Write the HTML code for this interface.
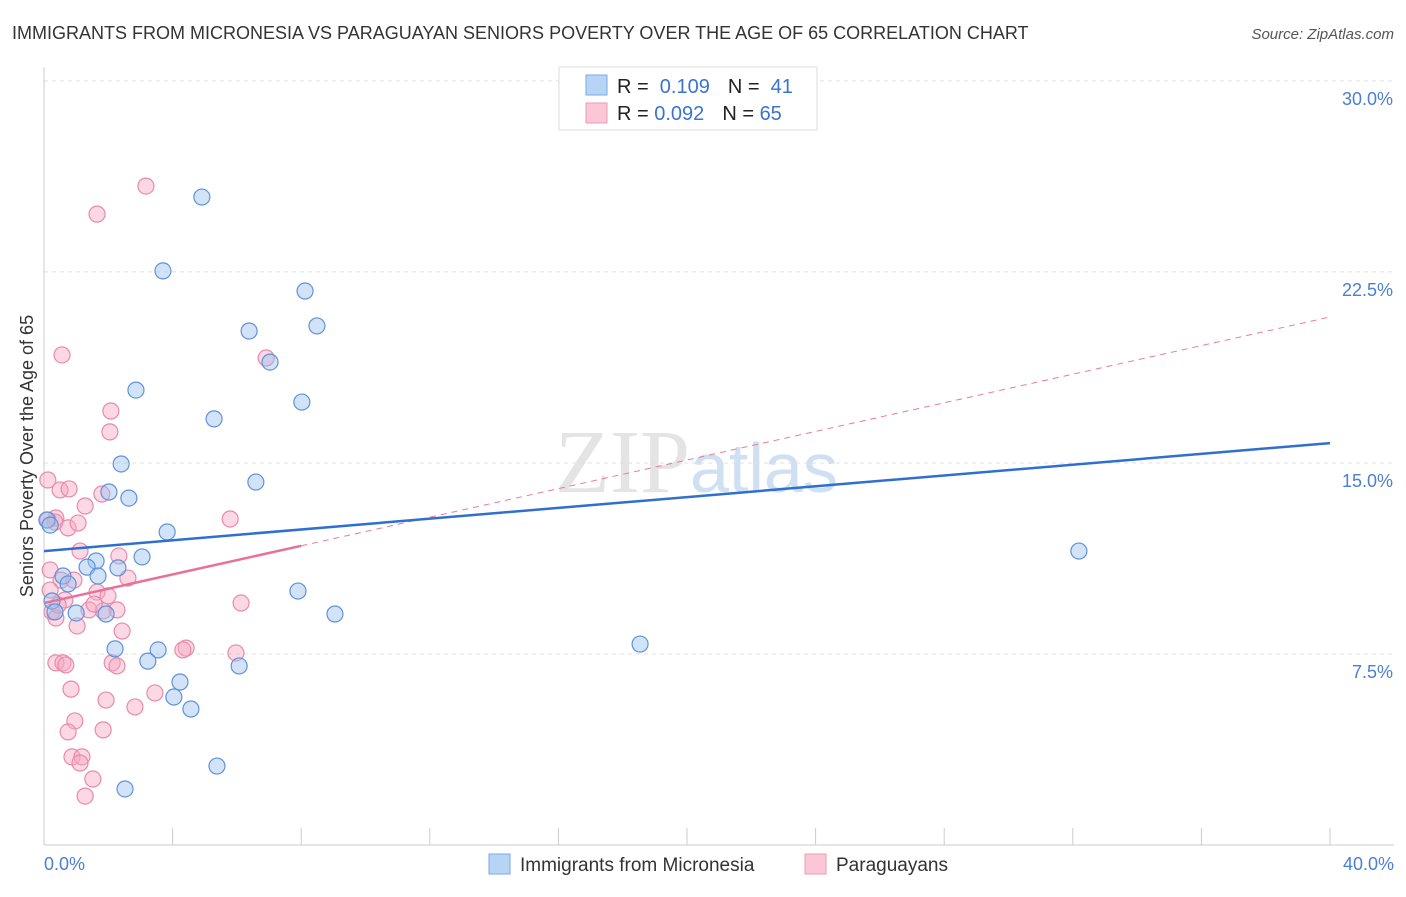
<!DOCTYPE html>
<html><head><meta charset="utf-8"><style>
body{margin:0;background:#fff;font-family:"Liberation Sans",sans-serif}
</style></head><body>
<svg id="chart" width="1406" height="892" xmlns="http://www.w3.org/2000/svg" font-family="Liberation Sans, sans-serif">
<text x="12" y="39" font-size="18" fill="#333">IMMIGRANTS FROM MICRONESIA VS PARAGUAYAN SENIORS POVERTY OVER THE AGE OF 65 CORRELATION CHART</text>
<text x="1394" y="39" font-size="15" fill="#555" text-anchor="end" font-style="italic">Source: ZipAtlas.com</text>
<text x="555" y="492" font-size="90" fill="#e4e4e4" font-family="Liberation Serif, serif">ZIP<tspan font-family="Liberation Sans, sans-serif" font-size="70" fill="#cfe0f3">atlas</tspan></text>
<g id="grid"></g><g id="axes"></g><g id="marks"></g>
<text transform="translate(33,456) rotate(-90)" text-anchor="middle" font-size="18" fill="#333">Seniors Poverty Over the Age of 65</text>
<g>
<rect x="559" y="67" width="258" height="63" fill="#fff" stroke="#ddd"/>
<rect x="586" y="75" width="21" height="20" fill="#b8d4f5" stroke="#7aaae6"/>
<rect x="586" y="103" width="21" height="20" fill="#fbc6d6" stroke="#ee9ab6"/>
<text x="617" y="93" font-size="20" fill="#222">R = <tspan fill="#3a74d0">&#160;0.109</tspan><tspan dx="18">N = </tspan><tspan fill="#3a74d0">&#160;41</tspan></text>
<text x="617" y="120" font-size="20" fill="#222">R = <tspan fill="#3a74d0">0.092</tspan><tspan dx="18">N = </tspan><tspan fill="#3a74d0">65</tspan></text>
</g>
<g>
<rect x="489" y="854" width="21" height="20" fill="#b8d4f5" stroke="#7aaae6"/>
<text x="520" y="871" font-size="19" fill="#333">Immigrants from Micronesia</text>
<rect x="805" y="854" width="21" height="20" fill="#fbc6d6" stroke="#ee9ab6"/>
<text x="836" y="871" font-size="19" fill="#333">Paraguayans</text>
</g>
</svg>
<script>
const blueX=[4.91,3.70,8.12,8.49,6.38,7.03,2.86,8.02,5.29,2.40,6.59,2.02,2.64,3.83,3.05,1.62,1.34,2.30,1.68,0.59,0.75,0.25,0.34,1.00,1.93,7.90,9.05,2.21,3.55,3.23,6.07,4.23,4.04,4.57,5.38,2.52,18.54,32.19,0.09,0.19];
const blueY=[25.44,22.54,21.75,20.38,20.18,18.96,17.86,17.39,16.73,14.96,14.25,13.86,13.62,12.29,11.31,11.15,10.91,10.88,10.56,10.56,10.25,9.58,9.15,9.11,9.07,9.97,9.07,7.70,7.66,7.22,7.03,6.40,5.81,5.34,3.10,2.20,7.89,11.54,12.76,12.56];
const pinkX=[3.17,1.65,0.56,6.91,2.08,2.05,0.50,0.78,1.80,1.28,0.37,0.34,0.12,5.79,0.75,1.06,1.12,2.33,0.19,2.61,0.53,0.93,1.65,1.99,0.65,0.25,2.27,1.84,0.37,1.03,2.43,6.13,4.42,4.32,5.97,0.37,0.59,0.68,2.12,2.27,0.84,1.93,3.45,2.83,0.96,1.84,0.75,0.87,1.18,1.12,1.52,1.28,0.12,0.19,0.44,1.40,1.56];
const pinkY=[25.87,24.77,19.24,19.12,17.04,16.22,13.94,13.98,13.78,13.31,12.84,12.68,14.33,12.80,12.45,12.64,11.54,11.35,10.80,10.48,10.40,10.40,9.93,9.78,9.62,9.15,9.23,9.19,8.91,8.60,8.40,9.50,7.73,7.66,7.54,7.15,7.15,7.07,7.15,7.03,6.12,5.69,5.97,5.42,4.87,4.52,4.44,3.46,3.46,3.22,2.59,1.92,12.76,10.01,9.42,9.23,9.46];
const yTicks=[7.5,15,22.5,30];
const yTickLabels=["7.5%","15.0%","22.5%","30.0%"];
const blueTrend=[11.54,15.78];
const pinkTrend=[9.50,20.73];
const pinkSolidEnd=8;
const NS="http://www.w3.org/2000/svg";
const sx=v=>44+v*32.15, sy=v=>845-v*25.47;
function mk(p,t,a){const e=document.createElementNS(NS,t);for(const k in a)e.setAttribute(k,a[k]);p.appendChild(e);return e;}
const grid=document.getElementById('grid'),axes=document.getElementById('axes'),marks=document.getElementById('marks');
yTicks.forEach((t,i)=>{
 const l=mk(grid,'line',{x1:44,x2:1394,y1:sy(t),y2:sy(t),stroke:'#e0e0e0','stroke-dasharray':'4,4'});
 
 
 const tx=mk(grid,'text',{x:1393,y:sy(t)+24,'text-anchor':'end','font-size':18,fill:'#4a7fd4'});
 tx.textContent=yTickLabels[i];
 
 
});
const ax=mk(axes,'line',{x1:44,x2:1394,y1:845,y2:845,stroke:'#ccc'});


const ay=mk(axes,'line',{x1:44,x2:44,y1:67,y2:845,stroke:'#ccc'});


for(let i=0;i<=10;i++){const t=mk(axes,'line',{x1:sx(i*4),x2:sx(i*4),y1:828,y2:845,stroke:'#ccc'});
 
 }
[["0.0%",44,'start'],["40.0%",1394,'end']].forEach(d=>{const t=mk(axes,'text',{x:d[1],y:870,'font-size':18,fill:'#4a7fd4','text-anchor':d[2]});t.textContent=d[0];
 
 });
function dots(X,Y,f,s,name){X.forEach((x,i)=>{const c=mk(marks,'circle',{cx:sx(x),cy:sy(Y[i]),r:8,fill:f,'fill-opacity':0.45,stroke:s,'stroke-width':1.2});
 
 });}
dots(pinkX,pinkY,'#f7a8c2','#e88aab','paraguayan-point');
dots(blueX,blueY,'#9cc0ee','#5e92dc','micronesia-point');
const pe=pinkTrend[0]+(pinkTrend[1]-pinkTrend[0])*pinkSolidEnd/40;
const pd=mk(marks,'line',{x1:sx(pinkSolidEnd),y1:sy(pe),x2:sx(40),y2:sy(pinkTrend[1]),stroke:'#e87aa0','stroke-width':1,'stroke-dasharray':'6,5'});


const ps=mk(marks,'line',{x1:sx(0),y1:sy(pinkTrend[0]),x2:sx(pinkSolidEnd),y2:sy(pe),stroke:'#e8709a','stroke-width':2.5});


const bl=mk(marks,'line',{x1:sx(0),y1:sy(blueTrend[0]),x2:sx(40),y2:sy(blueTrend[1]),stroke:'#2f6fd0','stroke-width':2.5});


</script>
</body></html>
